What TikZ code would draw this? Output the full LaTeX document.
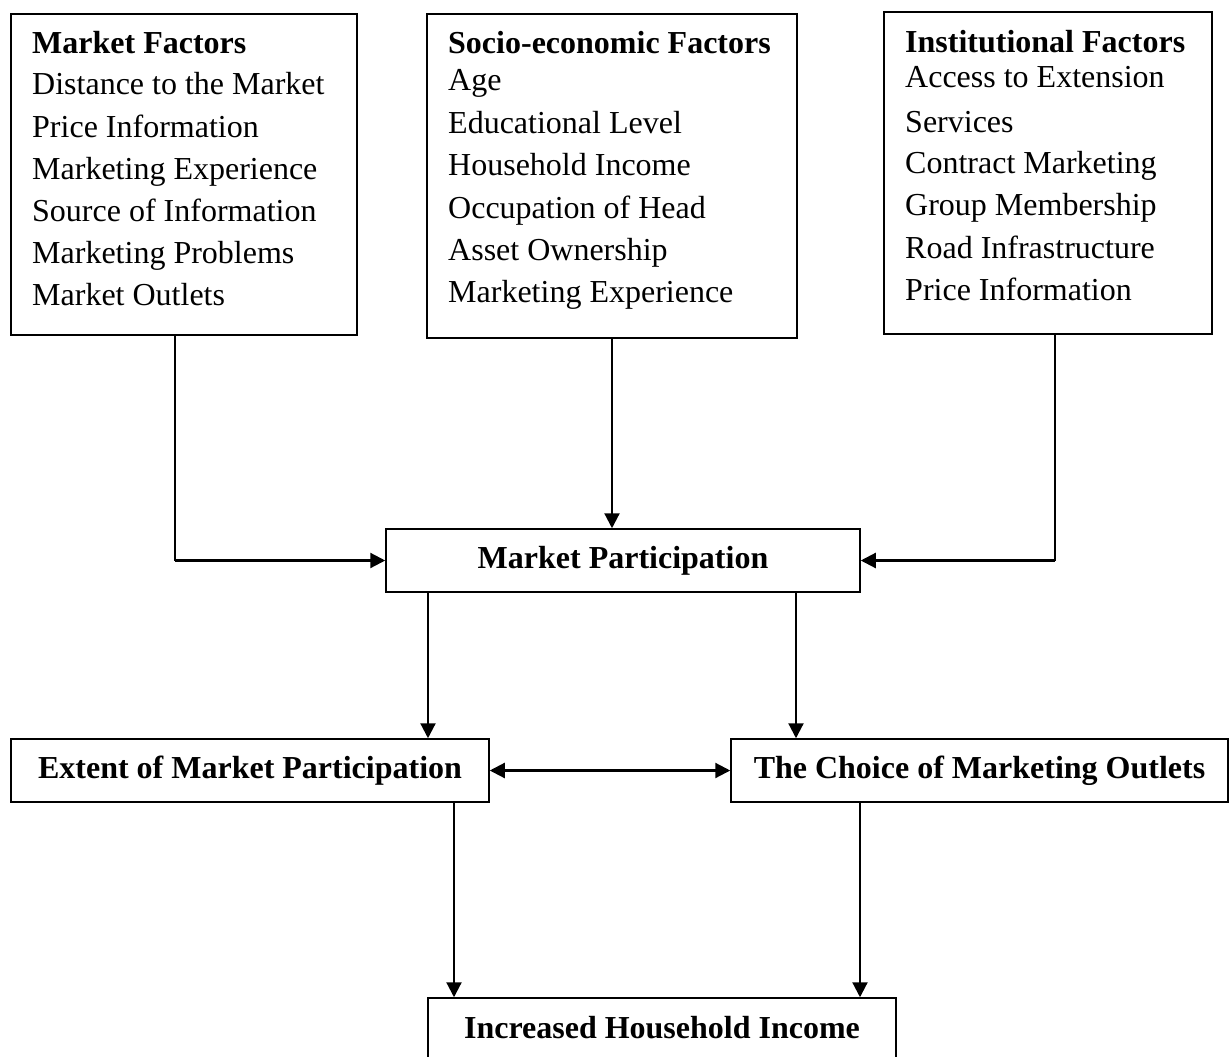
\documentclass[tikz,border=0pt]{standalone}
\usepackage{fontspec}
\setmainfont{Liberation Serif}
\usetikzlibrary{arrows.meta}
\begin{document}
\begin{tikzpicture}[x=1pt,y=-1pt,
  boxnode/.style={draw=black, line width=1.5pt, rectangle, inner sep=0pt},
  txt/.style={anchor=base west, inner sep=0pt, font=\fontsize{32}{38}\selectfont},
  ctxt/.style={font=\fontsize{32}{38}\selectfont\bfseries},
  arr/.style={line width=2.2pt, -{Triangle[length=15pt,width=15pt]}},
  dblarr/.style={line width=2.2pt, {Triangle[length=15pt,width=15pt]}-{Triangle[length=15pt,width=15pt]}},
  thinline/.style={line width=1.1pt}]
\clip (0,0) rectangle (1229,1057);
\fill[white] (0,0) rectangle (1229,1057);

% top boxes
\node[boxnode, minimum width=346pt, minimum height=321pt] (box1) at (184,174.5) {};
\node[boxnode, minimum width=370pt, minimum height=324pt] (box2) at (612,176) {};
\node[boxnode, minimum width=328pt, minimum height=322pt] (box3) at (1048,173) {};

% box 1 text
\node[txt] (m0) at (32,54) {\textbf{Market Factors}};
\node[txt] (m1) at (32,94) {Distance to the Market};
\node[txt] (m2) at (32,137) {Price Information};
\node[txt] (m3) at (32,179) {Marketing Experience};
\node[txt] (m4) at (32,221) {Source of Information};
\node[txt] (m5) at (32,263) {Marketing Problems};
\node[txt] (m6) at (32,305) {Market Outlets};

% box 2 text
\node[txt] (s0) at (448,54) {\textbf{Socio-economic Factors}};
\node[txt] (s1) at (448,90) {Age};
\node[txt] (s2) at (448,133) {Educational Level};
\node[txt] (s3) at (448,175) {Household Income};
\node[txt] (s4) at (448,218) {Occupation of Head};
\node[txt] (s5) at (448,260) {Asset Ownership};
\node[txt] (s6) at (448,302) {Marketing Experience};

% box 3 text
\node[txt] (i0) at (905,53) {\textbf{Institutional Factors}};
\node[txt] (i1) at (905,88) {Access to Extension};
\node[txt] (i2) at (905,132) {Services};
\node[txt] (i3) at (905,173) {Contract Marketing};
\node[txt] (i4) at (905,215) {Group Membership};
\node[txt] (i5) at (905,258) {Road Infrastructure};
\node[txt] (i6) at (905,300) {Price Information};

% middle and lower boxes
\node[boxnode, ctxt, minimum width=474pt, minimum height=63pt] (mp) at (623,560.5) {Market Participation};
\node[boxnode, ctxt, minimum width=478pt, minimum height=63pt] (ext) at (250,770.5) {Extent of Market Participation};
\node[boxnode, ctxt, minimum width=497pt, minimum height=63pt] (cho) at (979.5,770.5) {The Choice of Marketing Outlets};
\node[boxnode, minimum width=468pt, minimum height=90pt] (inc) at (662,1043) {};
\node[ctxt, anchor=base, inner sep=0pt] (inct) at (662,1038) {Increased Household Income};

% guide coordinates
\coordinate (xa) at (175,0);
\coordinate (xb) at (1055,0);
\coordinate (xc) at (428,0);
\coordinate (xd) at (796,0);
\coordinate (xe) at (454,0);
\coordinate (xf) at (860,0);

% connectors from top boxes
\draw[thinline] (box1.south -| xa) -- (mp.west -| xa);
\draw[arr] (mp.west -| xa) -- (mp.west);
\draw[arr] (box2.south) -- (box2.south |- mp.north);
\draw[thinline] (box3.south -| xb) -- (mp.east -| xb);
\draw[arr] (mp.east -| xb) -- (mp.east);

% from market participation
\draw[arr] (mp.south -| xc) -- (ext.north -| xc);
\draw[arr] (mp.south -| xd) -- (cho.north -| xd);
\draw[dblarr] (ext.east) -- (cho.west);

% to increased income
\draw[arr] (ext.south -| xe) -- (inc.north -| xe);
\draw[arr] (cho.south -| xf) -- (inc.north -| xf);
\end{tikzpicture}
\end{document}
